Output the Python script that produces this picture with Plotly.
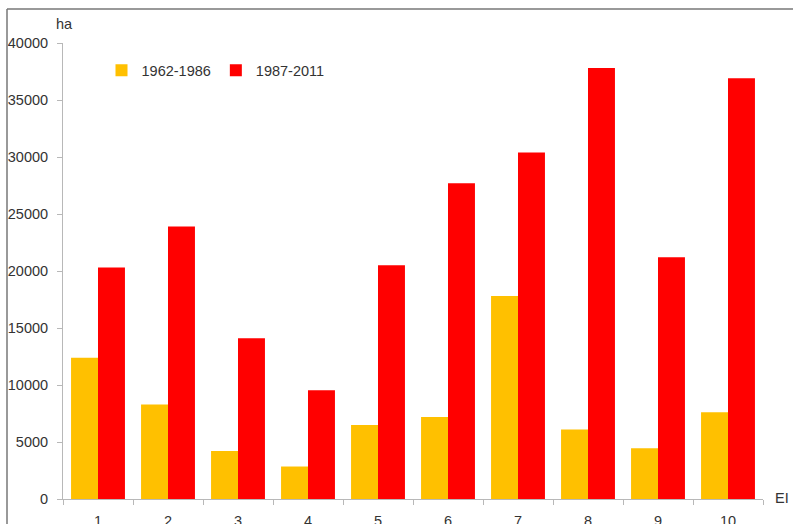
import plotly.graph_objects as go

categories = ["1", "2", "3", "4", "5", "6", "7", "8", "9", "10"]
period_1962_1986 = [12400, 8300, 4200, 2850, 6500, 7200, 17800, 6100, 4450, 7600]
period_1987_2011 = [20300, 23900, 14100, 9550, 20500, 27700, 30400, 37800, 21200, 36900]

FONT = "Liberation Sans, Arial, sans-serif"
AXIS_COLOR = "#b8b8b8"
TEXT_COLOR = "#333333"
FONT_SIZE = 14.5

fig = go.Figure()
fig.add_trace(go.Bar(x=categories, y=period_1962_1986, name="1962-1986",
                     marker=dict(color="#FFC000", line=dict(width=0))))
fig.add_trace(go.Bar(x=categories, y=period_1987_2011, name="1987-2011",
                     marker=dict(color="#FF0000", line=dict(width=0))))

fig.update_layout(
    width=793, height=524,
    margin=dict(l=63, r=30, t=43, b=25, autoexpand=False),
    paper_bgcolor="white", plot_bgcolor="white",
    font=dict(family=FONT, size=FONT_SIZE, color=TEXT_COLOR),
    barmode="group", bargap=0.23, bargroupgap=0,
    showlegend=True,
    legend=dict(orientation="h", x=0.055, y=0.94, xanchor="left", yanchor="middle",
                font=dict(size=FONT_SIZE, color=TEXT_COLOR), itemwidth=30,
                bgcolor="rgba(0,0,0,0)"),
)

fig.update_xaxes(
    type="category", range=[-0.5, 9.5], automargin=False,
    showline=True, linecolor=AXIS_COLOR, linewidth=1,
    ticks="outside", tickson="boundaries", ticklen=5, tickcolor=AXIS_COLOR,
    showgrid=False, zeroline=False,
    tickfont=dict(size=FONT_SIZE, color=TEXT_COLOR),
    ticklabelstandoff=9,
)
fig.update_yaxes(
    range=[0, 40000], dtick=5000, tickformat="d", automargin=False,
    showline=True, linecolor=AXIS_COLOR, linewidth=1,
    ticks="outside", ticklen=5, tickcolor=AXIS_COLOR,
    showgrid=False, zeroline=False,
    tickfont=dict(size=FONT_SIZE, color=TEXT_COLOR),
    ticklabelstandoff=6,
)

# axis unit labels
fig.add_annotation(text="ha", xref="paper", yref="paper", x=0.002, y=1.041,
                   showarrow=False, xanchor="center", yanchor="middle",
                   font=dict(size=FONT_SIZE, color=TEXT_COLOR))
fig.add_annotation(text="EI", xref="paper", yref="paper", x=1.015, y=0.002,
                   showarrow=False, xanchor="left", yanchor="middle",
                   font=dict(size=FONT_SIZE, color=TEXT_COLOR))

# frame edges visible in the crop
fig.add_shape(type="line", xref="paper", yref="paper", x0=-0.08, x1=1.05, y0=1.0746, y1=1.0746,
              line=dict(color="#777777", width=1.5))
fig.add_shape(type="line", xref="paper", yref="paper", x0=-0.08, x1=-0.08, y0=1.0746, y1=-0.06,
              line=dict(color="#777777", width=1.5))

fig.write_html("out.html", config={"displayModeBar": False},
               post_script="document.body.style.margin='0';document.body.style.overflow='hidden';")
